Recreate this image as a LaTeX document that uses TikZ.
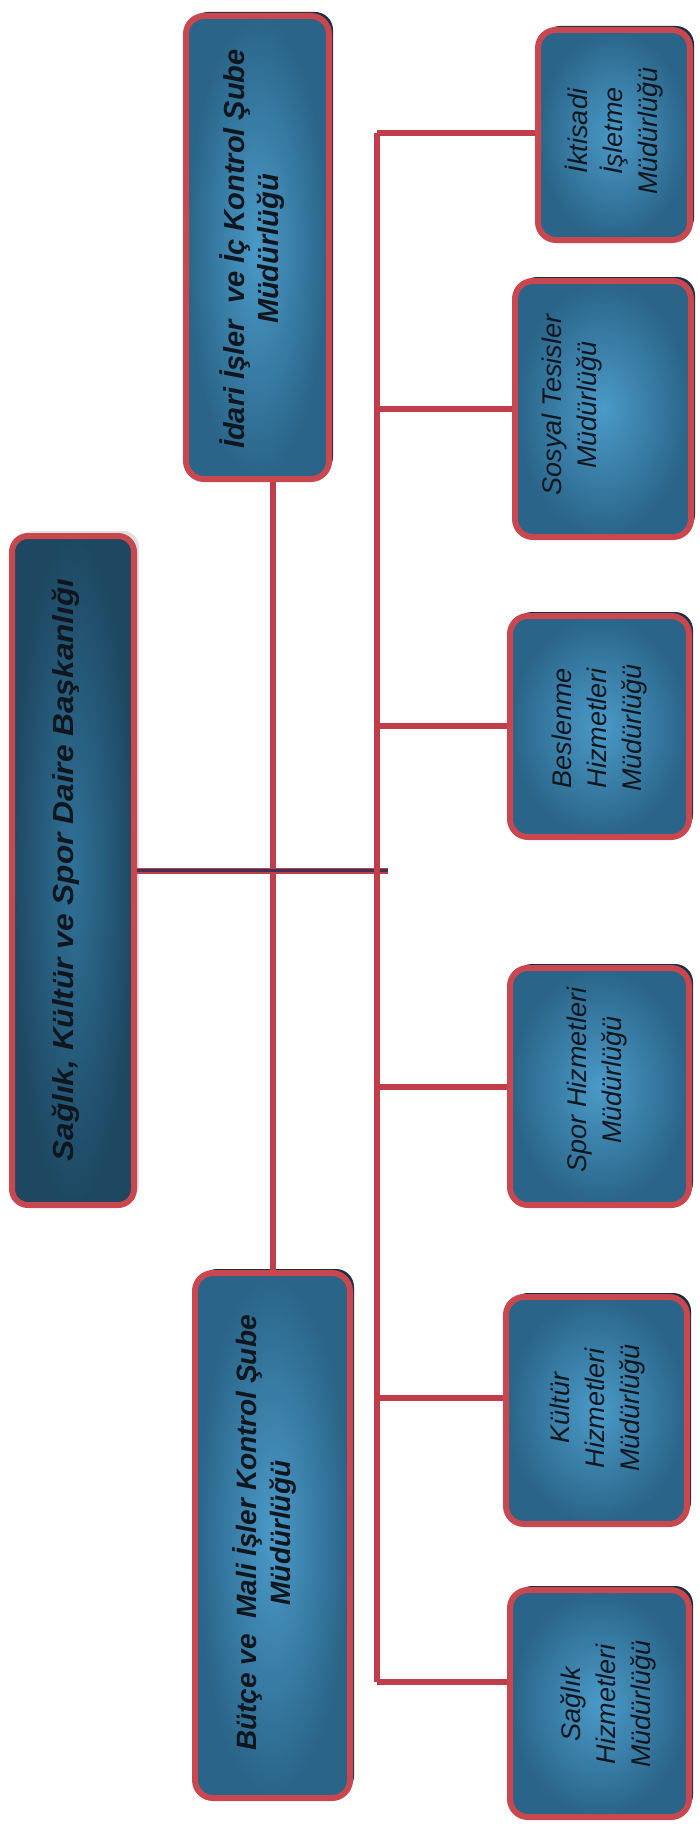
\documentclass[tikz,border=0pt]{standalone}
\usepackage{fontspec}
\setmainfont{Liberation Sans}
\newfontfamily\headfont{Liberation Sans}[FakeStretch=1.09]
\newfontfamily\subfont{Liberation Sans}
\usetikzlibrary{shadows}
\definecolor{boxred}{RGB}{201,71,79}
\definecolor{linered}{RGB}{192,62,76}
\definecolor{boxout}{RGB}{42,100,136}
\definecolor{boxin}{RGB}{74,154,200}
\definecolor{topout}{RGB}{30,72,98}
\definecolor{topin}{RGB}{48,114,152}
\definecolor{shadownavy}{RGB}{28,46,70}
\definecolor{inkc}{RGB}{16,22,30}
\definecolor{midline}{RGB}{62,52,82}
\begin{document}
\begin{tikzpicture}[x=1pt,y=-1pt,
  orgbox/.style={draw=boxred, line width=6pt, rounded corners=18pt,
    inner color=boxin, outer color=boxout, inner sep=0pt,
    drop shadow={shadow xshift=4pt, shadow yshift=4pt, fill=shadownavy, opacity=1}},
  topbox/.style={draw=boxred, line width=6pt, rounded corners=16pt,
    inner color=topin, outer color=topout, inner sep=0pt,
    drop shadow={shadow xshift=5pt, shadow yshift=5pt, fill=black!12, opacity=1}},
  conn/.style={draw=linered, line width=6pt},
  midconn/.style={draw=midline, line width=2.5pt},
  headtext/.style={rotate=90, align=center, text=inkc, inner sep=0pt,
    font=\headfont\bfseries\itshape\fontsize{29}{34}\selectfont},
  subtext/.style={rotate=90, align=center, text=inkc, inner sep=0pt,
    font=\subfont\bfseries\itshape\fontsize{28}{34}\selectfont},
  unittext/.style={rotate=90, align=center, text=inkc, inner sep=0pt,
    font=\subfont\itshape\fontsize{27}{35}\selectfont}]
\fill[white] (0,0) rectangle (700,1825);
\useasboundingbox (0,0) rectangle (700,1825);

% trunk coordinates
\coordinate (b1) at (377,133);
\coordinate (b2) at (377,409);
\coordinate (b3) at (377,726);
\coordinate (b4) at (377,1087);
\coordinate (b5) at (377,1398);
\coordinate (b6) at (377,1682);
\coordinate (hend) at (388,872);

% boxes
\path (73,870.5) node[topbox, minimum width=122pt, minimum height=669pt] (bask) {};
\path (257.5,247.5) node[orgbox, minimum width=143pt, minimum height=463pt] (idari) {};
\path (272.5,1535.5) node[orgbox, minimum width=155pt, minimum height=525pt] (butce) {};
\path (614,135) node[orgbox, minimum width=152pt, minimum height=210pt] (iktisadi) {};
\path (603,409) node[orgbox, minimum width=176pt, minimum height=256pt] (sosyal) {};
\path (599.5,726.5) node[orgbox, minimum width=179pt, minimum height=221pt] (beslenme) {};
\path (599.5,1086.5) node[orgbox, minimum width=179pt, minimum height=237pt] (spor) {};
\path (596.5,1410.5) node[orgbox, minimum width=181pt, minimum height=227pt] (kultur) {};
\path (599.5,1703.5) node[orgbox, minimum width=179pt, minimum height=227pt] (saglik) {};

% connectors
\draw[conn] (butce.north) -- (butce.north |- idari.south);
\draw[conn] (bask.east) -- (bask.east -| hend);
\draw[midconn] (bask.east) -- (bask.east -| hend);
\draw[conn] (b1) -- (b6);
\draw[conn] (b1) -- (b1 -| iktisadi.west);
\draw[conn] (b2) -- (b2 -| sosyal.west);
\draw[conn] (b3) -- (b3 -| beslenme.west);
\draw[conn] (b4) -- (b4 -| spor.west);
\draw[conn] (b5) -- (b5 -| kultur.west);
\draw[conn] (b6) -- (b6 -| saglik.west);

% texts
\node[headtext] (baskT) at (66,870) {Sağlık, Kültür ve Spor Daire Başkanlığı};
\node[subtext, font=\subfont\bfseries\itshape\fontsize{29}{34}\selectfont] (idariT) at (252,249) {İdari İşler\ \ ve İç Kontrol Şube\\Müdürlüğü};
\node[subtext] (butceT) at (264,1533) {Bütçe ve\ \ Mali İşler Kontrol Şube\\Müdürlüğü};
\node[unittext] (iktisadiT) at (614,131) {İktisadi\\İşletme\\Müdürlüğü};
\node[unittext] (sosyalT) at (572,405) {Sosyal Tesisler\\Müdürlüğü};
\node[unittext] (beslenmeT) at (600,728) {Beslenme\\Hizmetleri\\Müdürlüğü};
\node[unittext] (sporT) at (597,1080) {Spor Hizmetleri\\Müdürlüğü};
\node[unittext] (kulturT) at (598,1408) {Kültür\\Hizmetleri\\Müdürlüğü};
\node[unittext] (saglikT) at (608,1704) {Sağlık\\Hizmetleri\\Müdürlüğü};
\end{tikzpicture}
\end{document}
